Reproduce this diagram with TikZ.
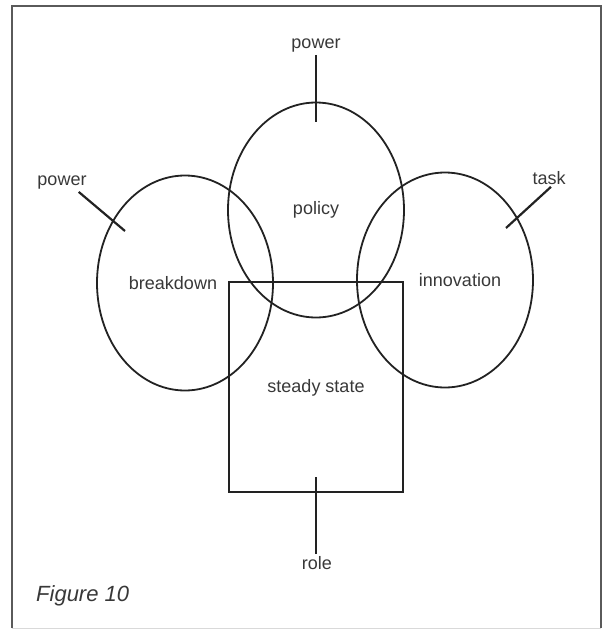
\documentclass[tikz,border=0pt]{standalone}
\usepackage{fontspec}
\setmainfont{Liberation Sans}
\usepackage{tikz}
\usetikzlibrary{shapes.geometric}
\definecolor{ink}{HTML}{222222}
\definecolor{rim}{HTML}{5A5A5A}

\begin{document}
\begin{tikzpicture}[x=1pt,y=-1pt,font=\fontsize{18}{20}\selectfont,
  ring/.style={draw=ink,ellipse,line width=1.8pt,minimum width=176pt,minimum height=215pt,inner sep=0pt},
  lbl/.style={text=ink!90,inner sep=2pt},
  tick/.style={draw=ink,line width=2.2pt}]
\useasboundingbox (0,0) rectangle (603,629);
% frame
\draw[rim,line width=2.2pt] (12,628) -- (12,6) -- (601,6) -- (601,628);
\draw[black!15,line width=1pt] (12,628) -- (601,628);
% the three circles and the box
\node[ring] (brk) at (185,283) {};
\node[ring] (pol) at (316,210) {};
\node[ring] (inn) at (445,280) {};
\node[draw=ink,line width=2.2pt,minimum width=174pt,minimum height=210pt,inner sep=0pt] (std) at (316,387) {};
\node[lbl] at ([xshift=-12pt]brk.center) {breakdown};
\node[lbl] at (pol.center) {policy};
\node[lbl] at ([xshift=15pt]inn.center) {innovation};
\node[lbl] at ([yshift=-1pt]std.center) {steady state};
% outside labels
\node[lbl] (pwtop) at (316,46) {power};
\node[lbl] (pwleft) at (62,183) {power};
\node[lbl] (task) at (549,178) {task};
\node[lbl] (role) at (317,563) {role};
\coordinate (pwtop-end) at (316,122);
\coordinate (pwleft-end) at (125,231);
\coordinate (task-end) at (506,228);
\coordinate (role-end) at (316,477);
\draw[tick] (pwtop.south) -- (pwtop-end);
\draw[tick] ([xshift=-10pt]pwleft.south east) -- (pwleft-end);
\draw[tick] ([xshift=2pt]task.south) -- (task-end);
\draw[tick] ([xshift=-1pt]role.north) -- (role-end);
\node[lbl,anchor=base west,font=\fontsize{22}{24}\selectfont\itshape] (fig) at (34,601) {Figure 10};
\end{tikzpicture}
\end{document}
